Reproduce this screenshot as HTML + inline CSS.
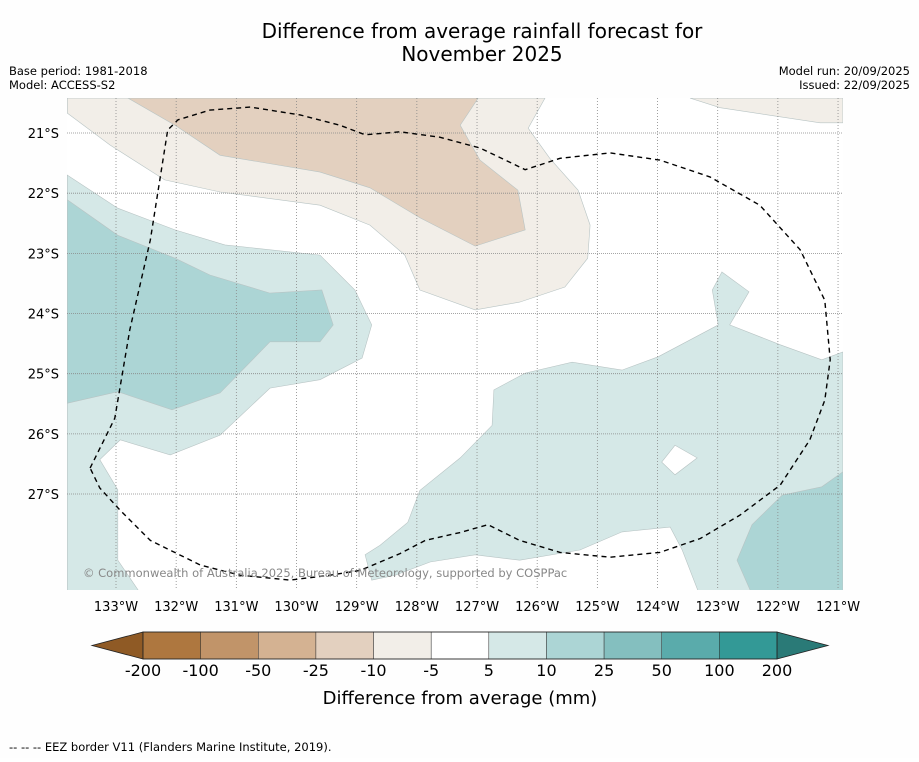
<!DOCTYPE html>
<html><head><meta charset="utf-8"><style>
body{margin:0;background:#fff;font-family:"DejaVu Sans","Liberation Sans",sans-serif}
</style></head><body>
<svg id="chart" width="919" height="758" viewBox="0 0 919 758" xmlns="http://www.w3.org/2000/svg" font-family="DejaVu Sans, Liberation Sans, sans-serif">
<rect width="919" height="758" fill="#fefefe"/>
<text x="482" y="38" font-size="20" text-anchor="middle">Difference from average rainfall forecast for</text>
<text x="482" y="61" font-size="20" text-anchor="middle">November 2025</text>
<text x="9" y="75" font-size="11.5">Base period: 1981-2018</text>
<text x="9" y="89" font-size="11.5">Model: ACCESS-S2</text>
<text x="910" y="75" font-size="11.5" text-anchor="end">Model run: 20/09/2025</text>
<text x="910" y="89" font-size="11.5" text-anchor="end">Issued: 22/09/2025</text>
<defs><clipPath id="mapclip"><rect x="67" y="98" width="776" height="492"/></clipPath></defs>
<g id="map" clip-path="url(#mapclip)"></g>
<g id="axes"></g>
<text x="83" y="577" font-size="11.5" fill="#888">© Commonwealth of Australia 2025, Bureau of Meteorology, supported by COSPPac</text>
<g id="colorbar"></g>
<text x="460" y="704" font-size="18" text-anchor="middle">Difference from average (mm)</text>
<text x="9" y="751" font-size="11.5">--  --  -- EEZ border V11 (Flanders Marine Institute, 2019).</text>
</svg>
<script>
const lonTicks=[133,132,131,130,129,128,127,126,125,124,123,122,121];
const latTicks=[21,22,23,24,25,26,27];
const cbLabels=["-200","-100","-50","-25","-10","-5","5","10","25","50","100","200"];
const cbColors=["#ae773f","#c19469","#d4b292","#e3d0bf","#f2eee8","#ffffff","#d5e8e7","#acd5d5","#84bfbf","#5aabab","#339996"];
const lightBrown=[[133.81,20.67],[133.10,21.20],[132.19,21.78],[131.27,21.98],[129.61,22.20],[128.78,22.53],[128.20,23.03],[127.95,23.61],[127.03,23.94],[126.29,23.81],[125.54,23.56],[125.16,23.08],[125.12,22.53],[125.32,21.95],[125.79,21.42],[126.15,20.92],[125.87,20.42],[133.81,20.42]];
const lightBrownNE=[[123.46,20.42],[122.96,20.58],[121.30,20.83],[120.92,20.83],[120.92,20.42]];
const tan=[[132.80,20.42],[132.02,20.87],[131.27,21.37],[129.61,21.65],[128.78,21.91],[127.95,22.41],[127.03,22.88],[126.20,22.61],[126.32,21.95],[126.95,21.45],[127.28,20.87],[126.98,20.42]];
const tealLightW=[[133.81,21.70],[132.97,22.25],[132.02,22.61],[131.19,22.86],[129.61,23.03],[129.03,23.61],[128.75,24.19],[128.91,24.74],[129.61,25.10],[130.44,25.24],[131.27,26.02],[132.10,26.35],[132.93,26.10],[133.27,26.43],[132.97,26.93],[132.97,28.10],[132.63,28.60],[133.81,28.60]];
const tealDarkW=[[133.81,22.11],[132.97,22.70],[132.02,23.08],[131.44,23.36],[130.44,23.66],[129.58,23.61],[129.39,24.19],[129.61,24.47],[130.44,24.47],[131.27,25.32],[132.07,25.60],[132.97,25.30],[133.81,25.49]];
const tealLightE=[[128.86,28.01],[128.61,27.85],[128.15,27.47],[127.95,26.94],[127.28,26.40],[126.75,25.86],[126.72,25.27],[126.20,24.99],[125.42,24.81],[124.59,24.94],[123.99,24.72],[122.99,24.19],[123.09,23.61],[122.93,23.31],[122.48,23.64],[122.80,24.19],[121.96,24.52],[121.27,24.77],[120.92,24.64],[120.92,28.60],[123.33,28.60],[123.59,27.93],[123.79,27.55],[124.59,27.63],[125.29,27.93],[126.29,28.10],[127.03,28.01],[127.78,28.13],[128.36,28.35],[128.75,28.43]];
const tealHole=[[123.93,26.47],[123.71,26.19],[123.34,26.40],[123.71,26.68]];
const tealDarkE=[[122.68,28.10],[122.43,27.51],[121.93,27.02],[121.27,26.88],[120.92,26.63],[120.92,28.60],[122.46,28.60]];
const eez=[[133.43,26.57],[133.02,25.74],[132.77,24.27],[132.43,22.78],[132.14,20.95],[131.97,20.78],[131.44,20.62],[130.77,20.57],[129.94,20.70],[129.28,20.87],[128.86,21.03],[128.28,20.98],[127.62,21.07],[126.95,21.25],[126.53,21.45],[126.20,21.61],[125.62,21.42],[124.79,21.33],[123.96,21.45],[123.13,21.73],[122.30,22.20],[121.63,22.94],[121.22,23.78],[121.13,24.77],[121.22,25.44],[121.47,26.10],[121.96,26.85],[122.63,27.35],[123.29,27.74],[123.96,27.97],[124.79,28.05],[125.62,27.97],[126.29,27.77],[126.82,27.51],[127.28,27.64],[127.86,27.77],[128.28,27.99],[128.94,28.27],[129.44,28.35],[130.11,28.43],[130.94,28.35],[131.60,28.18],[132.43,27.77],[132.93,27.27],[133.27,26.90],[133.43,26.57]];

const NS="http://www.w3.org/2000/svg";
const DEG=60.17;
const xOf=lonW=>116+(133-lonW)*DEG;
const yOf=latS=>133+(latS-21)*DEG;
const pts=a=>a.map(p=>xOf(p[0]).toFixed(1)+","+yOf(p[1]).toFixed(1)).join(" ");
function mk(tag,attrs,parent){const e=document.createElementNS(NS,tag);for(const k in attrs)e.setAttribute(k,attrs[k]);parent.appendChild(e);return e;}
const map=document.getElementById("map"),axes=document.getElementById("axes"),cb=document.getElementById("colorbar");
mk("rect",{x:67,y:98,width:776,height:492,fill:"#fff"},map);
const layers=[[lightBrown,"#f2eee8","contour-minus10-minus5"],[lightBrownNE,"#f2eee8","contour-minus10-minus5-ne"],[tan,"#e3d0bf","contour-minus25-minus10"],[tealLightW,"#d5e8e7","contour-5-10-west"],[tealDarkW,"#acd5d5","contour-10-25-west"],[tealLightE,"#d5e8e7","contour-5-10-east"],[tealHole,"#ffffff","contour-hole"],[tealDarkE,"#acd5d5","contour-10-25-east"]];
layers.forEach(l=>{
 const p=mk("polygon",{points:pts(l[0]),fill:l[1],stroke:"#b8c4c4","stroke-width":0.6},map);
 
 
});
lonTicks.forEach(t=>{
 const x=xOf(t);
 const g=mk("line",{x1:x,x2:x,y1:98,y2:590,stroke:"#888","stroke-width":0.8,"stroke-dasharray":"1,2"},map);
 
 
 const tx=mk("text",{x:x,y:611,"font-size":13,"text-anchor":"middle"},axes);
 tx.textContent=t+"°W";
 
 
});
latTicks.forEach(t=>{
 const y=yOf(t);
 const g=mk("line",{x1:67,x2:843,y1:y,y2:y,stroke:"#888","stroke-width":0.8,"stroke-dasharray":"1,1"},map);
 
 
 const tx=mk("text",{x:59,y:y+5,"font-size":13,"text-anchor":"end"},axes);
 tx.textContent=t+"°S";
 
 
});
const eezLine=mk("polyline",{points:pts(eez),fill:"none",stroke:"#000","stroke-width":1.4,"stroke-dasharray":"5,4","stroke-linejoin":"round"},map);


const cbX0=143,cbX1=777,cbY=632,cbH=27,bw=(cbX1-cbX0)/cbColors.length;
const lt=mk("polygon",{points:`${cbX0},${cbY} 92,${cbY+cbH/2} ${cbX0},${cbY+cbH}`,fill:"#8f5a25",stroke:"#222","stroke-width":0.8},cb);


const rt=mk("polygon",{points:`${cbX1},${cbY} 828,${cbY+cbH/2} ${cbX1},${cbY+cbH}`,fill:"#2a7a77",stroke:"#222","stroke-width":0.8},cb);


cbColors.forEach((c,i)=>{
 const r=mk("rect",{x:cbX0+i*bw,y:cbY,width:bw,height:cbH,fill:c,stroke:"#333","stroke-width":0.5},cb);
 
 
});
mk("rect",{x:cbX0,y:cbY,width:cbX1-cbX0,height:cbH,fill:"none",stroke:"#222","stroke-width":0.8},cb);
cbLabels.forEach((s,i)=>{
 const t=mk("text",{x:cbX0+i*bw,y:676,"font-size":16,"text-anchor":"middle"},cb);
 t.textContent=s;
 
 
});
</script>
</body></html>
